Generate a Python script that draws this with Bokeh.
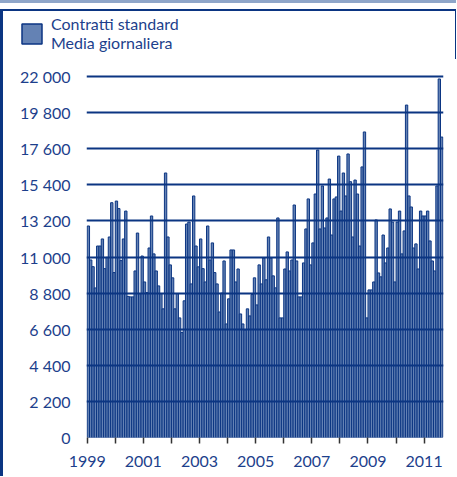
from bokeh.plotting import figure
from bokeh.models import Range1d, FixedTicker, Legend, LegendItem, ColumnDataSource, Div
from bokeh.layouts import column, row
from bokeh.embed import file_html
from bokeh.resources import INLINE

# Monthly values (Contratti standard, media giornaliera), Jan 1999 - Aug 2011
v1999 = [12890, 10820, 10410, 9115, 11670, 11670, 12100, 10290, 10980, 12220, 14310, 10050]
v2000 = [14410, 13950, 10780, 12100, 13800, 8600, 8570, 8570, 10150, 12460, 8770, 11060]
v2001 = [9480, 8830, 11550, 13500, 11190, 10150, 9240, 8770, 7840, 16120, 12220, 10520]
v2002 = [9730, 7840, 8770, 7290, 6395, 8330, 13010, 13130, 9360, 14720, 11670, 10400]
v2003 = [12100, 10290, 9480, 12890, 10820, 11860, 10050, 9360, 7650, 8800, 10760, 6920]
v2004 = [8450, 11430, 11430, 9480, 10270, 7530, 6920, 6560, 7840, 7410, 8710, 9730]
v2005 = [8080, 10520, 9360, 10940, 9610, 12220, 10940, 9850, 9120, 13380, 7290, 7290]
v2006 = [10270, 11310, 10150, 10820, 14170, 10760, 8570, 8570, 10640, 12710, 14540, 10520]
v2007 = [11860, 14840, 17520, 12710, 15330, 12770, 13380, 15750, 12340, 14540, 14660, 17150]
v2008 = [13800, 16120, 14720, 17280, 15590, 12220, 15690, 14840, 11670, 16490, 18620, 7290]
v2009 = [8995, 8995, 9480, 13260, 10030, 9790, 12340, 10640, 11550, 13930, 13130, 9480]
v2010 = [13130, 13800, 11190, 12590, 20260, 14720, 14050, 11550, 11800, 10270, 13800, 13500]
v2011 = [13500, 13800, 11980, 10760, 10150, 15330, 21850, 18310]

y_ticks = [0, 2200, 4400, 6600, 8800, 11000, 13200, 15400, 17600, 19800, 22000]
y_tick_labels = ["0", "2 200", "4 400", "6 600", "8 800", "11 000", "13 200",
                 "15 400", "17 600", "19 800", "22 000"]
x_ticks = list(range(1999, 2012))
x_tick_labels = ["1999", "", "2001", "", "2003", "", "2005", "", "2007", "", "2009", "", "2011"]
legend_label = "Contratti standard\nMedia giornaliera"

series = (v1999 + v2000 + v2001 + v2002 + v2003 + v2004 + v2005 + v2006 +
          v2007 + v2008 + v2009 + v2010 + v2011)
xs = [1999 + (i + 0.5) / 12 for i in range(len(series))]
src = ColumnDataSource(dict(x=xs, top=series))

NAVY = "#0b3582"
TEXT = "#1d3f8c"
FILL = "#6482b4"
STRIP = "#8fa6c9"

# ---- main chart ----
p = figure(width=453, height=417, output_backend="svg", toolbar_location=None,
           x_range=Range1d(1998.975, 2011.69), y_range=Range1d(0, 22366),
           min_border_left=83, min_border_right=13, min_border_top=11, min_border_bottom=39)
p.outline_line_color = None
p.background_fill_color = "white"
p.border_fill_color = "white"

r = p.vbar(x="x", top="top", width=1 / 12, bottom=0, source=src,
           fill_color=FILL, line_color=NAVY, line_width=1)
# horizontal rules at the y ticks, drawn over the bars
p.hspan(y=y_ticks[1:], line_color=NAVY, line_width=2)

p.xgrid.visible = False
p.ygrid.visible = False

ya = p.yaxis[0]
ya.ticker = FixedTicker(ticks=y_ticks)
ya.major_label_overrides = {t: l for t, l in zip(y_ticks, y_tick_labels)}
ya.axis_line_color = None
ya.major_tick_line_color = None
ya.minor_tick_line_color = None
ya.major_tick_out = 0
ya.major_tick_in = 0
ya.major_label_standoff = 16
ya.major_label_text_font = "Lato"
ya.major_label_text_font_size = "16px"
ya.major_label_text_color = TEXT

xa = p.xaxis[0]
xa.ticker = FixedTicker(ticks=x_ticks)
xa.major_label_overrides = {t: l for t, l in zip(x_ticks, x_tick_labels)}
xa.axis_line_color = None
xa.major_tick_line_color = "#333333"
xa.major_tick_line_width = 1.5
xa.minor_tick_line_color = None
xa.major_tick_out = 6
xa.major_tick_in = 0
xa.major_label_standoff = 12
xa.major_label_text_font = "Lato"
xa.major_label_text_font_size = "16px"
xa.major_label_text_color = TEXT

# ---- legend strip (same bar style and data as the series; bars lie outside its view) ----
lg = figure(width=453, height=48, output_backend="svg", toolbar_location=None,
            x_range=Range1d(0, 1), y_range=Range1d(0, 1),
            x_axis_type=None, y_axis_type=None, min_border=0)
lg.outline_line_color = None
lg.xgrid.visible = False
lg.ygrid.visible = False
lr = lg.vbar(x="x", top="top", width=1 / 12, bottom=0, source=src,
             fill_color=FILL, line_color=NAVY, line_width=1.5)
legend = Legend(items=[LegendItem(label=legend_label, renderers=[lr])],
                location=(16, 7), glyph_width=25, glyph_height=25,
                label_text_font="Lato", label_text_font_size="16px",
                label_text_color=TEXT, padding=0, margin=0, spacing=0,
                label_standoff=7, border_line_color=None, background_fill_alpha=0)
lg.add_layout(legend)

for fig in (lg, p):
    try:
        fig.frame_align = False
    except Exception:
        pass

strip = Div(text="", width=456, height=3, margin=0, styles={"background-color": STRIP})
gap = Div(text="", width=456, height=6, margin=0)
top_line = Div(text="", width=456, height=2, margin=0, styles={"background-color": NAVY})
left_line = Div(text="", width=3, height=465, margin=0, styles={"background-color": NAVY})
layout = column(strip, gap, top_line,
                row(left_line, column(lg, p, spacing=0), spacing=0), spacing=0)

open("out.html", "w").write(file_html(layout, INLINE))
